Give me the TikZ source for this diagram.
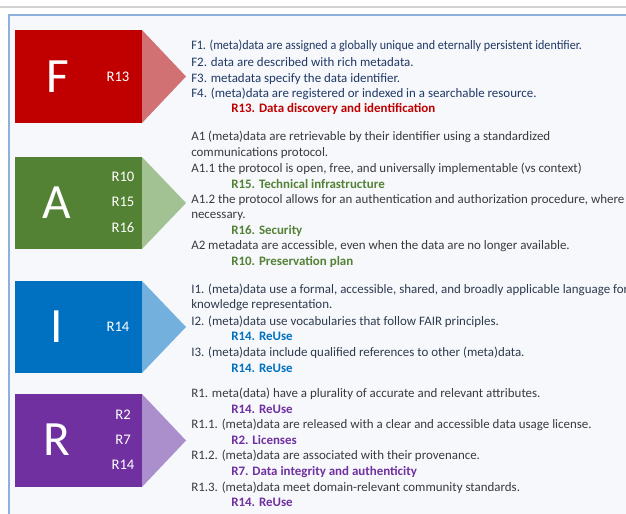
\documentclass[tikz,border=0pt]{standalone}
\usepackage{fontspec}
\setmainfont{Carlito}
\definecolor{fdark}{HTML}{C00000}
\definecolor{flight}{HTML}{D27173}
\definecolor{adark}{HTML}{548235}
\definecolor{alight}{HTML}{A2C293}
\definecolor{idark}{HTML}{0070C0}
\definecolor{ilight}{HTML}{74B0DE}
\definecolor{rdark}{HTML}{7030A0}
\definecolor{rlight}{HTML}{AB8FCC}
\definecolor{framecol}{HTML}{8EB1DB}
\definecolor{framebg}{HTML}{F6F8FC}
\definecolor{ftext}{HTML}{203864}
\definecolor{gtext}{HTML}{3A3A3A}
\definecolor{itext}{HTML}{2E3A4C}
\tikzset{
  bigletter/.style={text=white, font=\fontsize{37}{37}\selectfont, inner sep=0pt},
  rlabel/.style={text=white, font=\fontsize{11}{12}\selectfont, inner sep=0pt},
  txt/.style={anchor=base west, inner sep=0pt, font=\fontsize{9.7}{11}\selectfont},
  hl/.style={txt, font=\fontsize{9.7}{11}\selectfont\bfseries},
}
\newcommand{\fairblock}[4]{%
  \fill[#4] (142,#1) -- (186,{(#1+#2)/2}) -- (142,#2) -- cycle;
  \fill[#3] (15,#1) rectangle (142,#2);
}
\begin{document}
\begin{tikzpicture}[x=0.75pt,y=-0.75pt]
\useasboundingbox (0,0) rectangle (626,514);
\fill[white] (0,0) rectangle (626,514);
\draw[black!18, line width=0.8pt] (0,7) -- (626,7);
\fill[framebg] (9,15) rectangle (626,514);
\draw[framecol, line width=1.3pt] (9,514) -- (9,15) -- (626,15);

% F block
\fairblock{30}{123}{fdark}{flight}
\node[bigletter] (F) at (58,77) {F};
\node[rlabel] (Fr13) at (118,77) {R13};
\node[txt, text=ftext] (f1) at (191,50) {\scalebox{0.935}[1]{F1. (meta)data are assigned a globally unique and eternally persistent identifier.}};
\node[txt, text=ftext] (f2) at (191,66) {F2. data are described with rich metadata.};
\node[txt, text=ftext] (f3) at (191,82) {F3. metadata specify the data identifier.};
\node[txt, text=ftext] (f4) at (191,98) {F4. (meta)data are registered or indexed in a searchable resource.};
\node[hl, text=fdark] (fr) at (231,113) {R13. Data discovery and identification};

% A block
\fairblock{157}{249}{adark}{alight}
\node[bigletter] (A) at (57,203) {A};
\node[rlabel] (Ar10) at (123,177) {R10};
\node[rlabel] (Ar15) at (123,202) {R15};
\node[rlabel] (Ar16) at (123,228) {R16};
\node[txt, text=gtext] (a1) at (191,140) {A1 (meta)data are retrievable by their identifier using a standardized};
\node[txt, text=gtext] (a1b) at (191,156) {communications protocol.};
\node[txt, text=gtext] (a11) at (191,172) {A1.1 the protocol is open, free, and universally implementable (vs context)};
\node[hl, text=adark] (ar15) at (231,188) {R15. Technical infrastructure};
\node[txt, text=gtext] (a12) at (191,203) {A1.2 the protocol allows for an authentication and authorization procedure, where};
\node[txt, text=gtext] (a12b) at (191,218) {necessary.};
\node[hl, text=adark] (ar16) at (231,234) {R16. Security};
\node[txt, text=gtext] (a2) at (191,249) {A2 metadata are accessible, even when the data are no longer available.};
\node[hl, text=adark] (ar10) at (231,265) {R10. Preservation plan};

% I block
\fairblock{281}{373}{idark}{ilight}
\node[bigletter] (I) at (57,327) {I};
\node[rlabel] (Ir14) at (118,327) {R14};
\node[txt, text=itext] (i1) at (191,293) {I1. (meta)data use a formal, accessible, shared, and broadly applicable language for};
\node[txt, text=itext] (i1b) at (191,308) {knowledge representation.};
\node[txt, text=itext] (i2) at (191,325) {I2. (meta)data use vocabularies that follow FAIR principles.};
\node[hl, text=idark] (ir1) at (231,340) {R14. ReUse};
\node[txt, text=itext] (i3) at (191,356) {I3. (meta)data include qualified references to other (meta)data.};
\node[hl, text=idark] (ir2) at (231,372) {R14. ReUse};

% R block
\fairblock{394}{487}{rdark}{rlight}
\node[bigletter] (R) at (57,440) {R};
\node[rlabel] (Rr2) at (123,415) {R2};
\node[rlabel] (Rr7) at (123,440) {R7};
\node[rlabel] (Rr14) at (123,465) {R14};
\node[txt, text=gtext] (r1) at (191,397) {R1. meta(data) have a plurality of accurate and relevant attributes.};
\node[hl, text=rdark] (rr1) at (231,413) {R14. ReUse};
\node[txt, text=gtext] (r11) at (191,428) {R1.1. (meta)data are released with a clear and accessible data usage license.};
\node[hl, text=rdark] (rr2) at (231,444) {R2. Licenses};
\node[txt, text=gtext] (r12) at (191,459) {R1.2. (meta)data are associated with their provenance.};
\node[hl, text=rdark] (rr3) at (231,475) {R7. Data integrity and authenticity};
\node[txt, text=gtext] (r13) at (191,491) {R1.3. (meta)data meet domain-relevant community standards.};
\node[hl, text=rdark] (rr4) at (231,506) {R14. ReUse};
\end{tikzpicture}
\end{document}
